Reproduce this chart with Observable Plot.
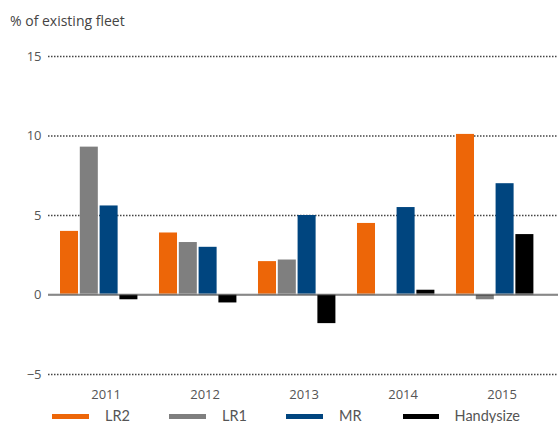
<!DOCTYPE html>
<html>
<head>
<meta charset="utf-8">
<script src="https://cdn.jsdelivr.net/npm/d3@7"></script>
<script src="https://cdn.jsdelivr.net/npm/@observablehq/plot@0.6"></script>
<style>
  html, body { margin: 0; padding: 0; background: #fff; }
  body { width: 558px; height: 423px; position: relative; overflow: hidden; font-family: "Open Sans", Lato, sans-serif; }
  #title { position: absolute; left: 10px; top: 13px; font-size: 14px; color: #444; line-height: 16px; }
  #chart { position: absolute; left: 0; top: 40px; }
  #legend { position: absolute; left: 52px; top: 409px; display: flex; font-family: Lato, "Open Sans", sans-serif; font-size: 14.5px; color: #555; line-height: 14px; }
  .item { display: flex; align-items: center; width: 117px; }
  .sw { width: 37px; height: 5px; margin-right: 16px; }
</style>
</head>
<body>
<div id="title">% of existing fleet</div>
<div id="chart"></div>
<div id="legend"></div>
<script>
const years = ["2011", "2012", "2013", "2014", "2015"];
const series = ["LR2", "LR1", "MR", "Handysize"];
const LR2 = [4.0, 3.9, 2.1, 4.5, 10.1];
const LR1 = [9.3, 3.3, 2.2, null, -0.3];
const MR = [5.6, 3.0, 5.0, 5.5, 7.0];
const Handysize = [-0.3, -0.5, -1.8, 0.3, 3.8];
const yTicks = [-5, 0, 5, 10, 15];
const colors = ["#ED6608", "#7F7F7F", "#00457F", "#000000"];

const valuesBySeries = {LR2, LR1, MR, Handysize};
const data = [];
years.forEach((yr, i) => {
  series.forEach(s => {
    const v = valuesBySeries[s][i];
    if (v != null) data.push({key: yr + "|" + s, year: yr, series: s, value: v});
  });
});
const domain = [];
years.forEach((yr, i) => {
  series.forEach(s => domain.push(yr + "|" + s));
  if (i < years.length - 1) domain.push(yr + "|gap");
});

const plot = Plot.plot({
  width: 558,
  height: 368,
  marginLeft: 48,
  marginRight: 0,
  marginTop: 16,
  marginBottom: 34,
  insetLeft: 12,
  insetRight: 24.6,
  style: {fontFamily: "'Open Sans', Lato, sans-serif", fontSize: "13px", color: "#555", background: "#fff"},
  x: {domain, paddingInner: 0.09, paddingOuter: 0, round: false, axis: null},
  y: {domain: [-5, 15], axis: null},
  color: {domain: series, range: colors},
  marks: [
    Plot.ruleY([-5, 5, 10, 15], {stroke: "#444", strokeWidth: 1.5, strokeDasharray: "1.5,1.5", strokeOpacity: 1}),
    Plot.barY(data, {x: "key", y: "value", fill: "series"}),
    Plot.ruleY([0], {stroke: "#bbb", strokeWidth: 1, dy: -1}),
    Plot.ruleY([0], {stroke: "#333", strokeWidth: 1}),
    Plot.axisY({ticks: yTicks, tickSize: 0, tickPadding: 7, label: null, fontSize: 13, fill: "#555"}),
    Plot.axisX({ticks: years.map(y => y + "|MR"), tickFormat: k => k.split("|")[0], tickSize: 0, tickPadding: 15, dx: -3, label: null, fontSize: 13, fill: "#555", fontWeight: 400})
  ]
});
document.getElementById("chart").appendChild(plot);

const legend = document.getElementById("legend");
series.forEach((s, i) => {
  const item = document.createElement("div");
  item.className = "item";
  const sw = document.createElement("div");
  sw.className = "sw";
  sw.style.background = colors[i];
  const lab = document.createElement("span");
  lab.textContent = s;
  item.appendChild(sw);
  item.appendChild(lab);
  legend.appendChild(item);
});
</script>
</body>
</html>
